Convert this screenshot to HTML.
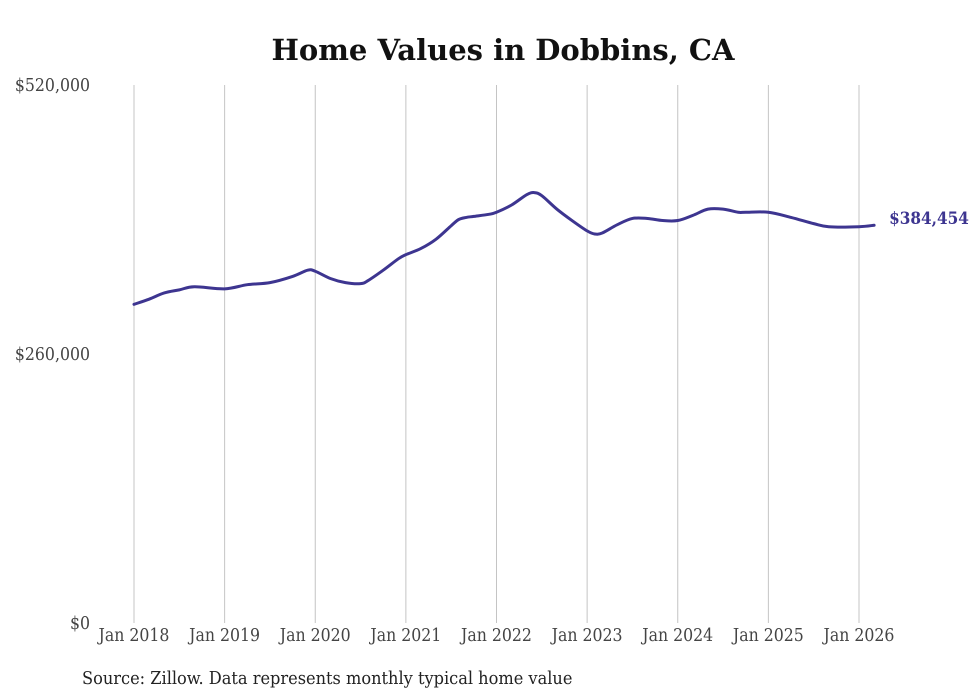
<!DOCTYPE html>
<html><head><meta charset="utf-8"><style>
body{margin:0;background:#fff;width:980px;height:699px;overflow:hidden}
svg{display:block}
text{font-family:"DejaVu Serif Condensed","DejaVu Serif","Liberation Serif",serif}
</style></head><body>
<svg id="chart" width="980" height="699" viewBox="0 0 980 699">
<text x="503" y="60" text-anchor="middle" font-size="29" font-weight="bold" fill="#111" style="font-family:'DejaVu Serif',serif">Home Values in Dobbins, CA</text>
<g id="grid"></g>
<g id="yaxis"></g>
<g id="xaxis"></g>
<g id="series"></g>
<text x="82" y="684" font-size="18" fill="#222">Source: Zillow. Data represents monthly typical home value</text>
</svg>
<script>
const monthIdx=[0,2,4,6,8,12,15,18,21,23,24,26,28,30,31,33,35,36,38,40,42,43,44,45,47,48,50,52,53,54,56,58,60,61,62,64,66,68,70,72,74,76,78,80,81,84,87,90,92,96,98];
const values=[308,313,319,322,325,323,327,329,335,341,340,333,329,328,331,341,352,356,362,371,384,390,392,393,395,397,404,414,416,413,400,389,379,376,377,385,391,391,389,389,394,400,400,397,397,397,392,386,383,383,384.454];
const xTickLabels=['Jan 2018','Jan 2019','Jan 2020','Jan 2021','Jan 2022','Jan 2023','Jan 2024','Jan 2025','Jan 2026'];
const yTickValues=[0,260000,520000];
const yTickLabels=['$0','$260,000','$520,000'];
const endLabel='$384,454';
const NS='http://www.w3.org/2000/svg';
const x0=134,pxPerMonth=(859-134)/96,yTop=85,yBot=623,yMax=520000;
const xs=m=>x0+m*pxPerMonth;
const ys=v=>yBot-(v/yMax)*(yBot-yTop);
function mk(t,a,p){const e=document.createElementNS(NS,t);for(const k in a)e.setAttribute(k,a[k]);p.appendChild(e);return e;}
const grid=document.getElementById('grid'),xa=document.getElementById('xaxis'),ya=document.getElementById('yaxis'),se=document.getElementById('series');
xTickLabels.forEach((l,i)=>{const x=xs(i*12);
const g=mk('line',{x1:x,x2:x,y1:yTop,y2:yBot,stroke:'#c4c4c4','stroke-width':1},grid);


const t=mk('text',{x:x,y:641,'text-anchor':'middle','font-size':17.5,fill:'#444'},xa);t.textContent=l;

});
yTickValues.forEach((v,i)=>{const t=mk('text',{x:90,y:ys(v)+6,'text-anchor':'end','font-size':17.5,fill:'#444'},ya);t.textContent=yTickLabels[i];

});
const pts=monthIdx.map((m,i)=>[xs(m),ys(values[i]*1000)]);
let d='M'+pts[0][0]+','+pts[0][1];
for(let i=0;i<pts.length-1;i++){const p0=pts[i-1]||pts[i],p1=pts[i],p2=pts[i+1],p3=pts[i+2]||p2;
d+=' C'+(p1[0]+(p2[0]-p0[0])/6)+','+(p1[1]+(p2[1]-p0[1])/6)+' '+(p2[0]-(p3[0]-p1[0])/6)+','+(p2[1]-(p3[1]-p1[1])/6)+' '+p2[0]+','+p2[1];}
const path=mk('path',{d:d,fill:'none',stroke:'#3d3590','stroke-width':3,'stroke-linejoin':'round','stroke-linecap':'round'},se);


const last=pts[pts.length-1];
const el=mk('text',{x:last[0]+15,y:last[1]-1,'font-size':17,'font-weight':'bold',fill:'#3d3590'},se);el.textContent=endLabel;


</script>
</body></html>
